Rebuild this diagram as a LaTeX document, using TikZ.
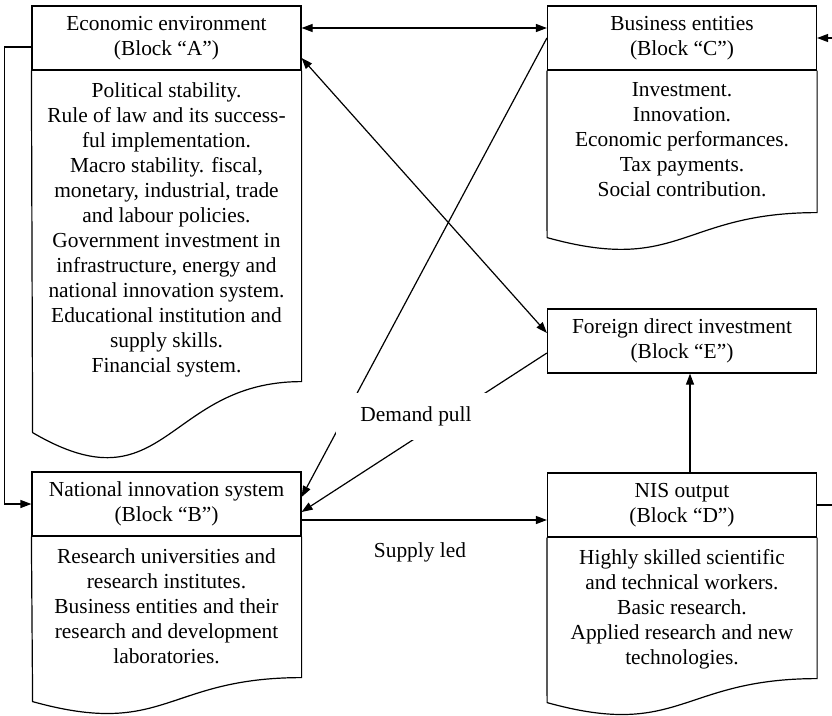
\documentclass[tikz,border=0pt]{standalone}
\usepackage{fontspec}
\setmainfont{Liberation Serif}
\usetikzlibrary{arrows.meta}
\begin{document}
\begin{tikzpicture}[x=1pt,y=-1pt]
   \tikzstyle{head} = [rectangle, draw, line width=1.2pt, minimum width=269pt, minimum height=64pt, inner sep=0pt, align=center, font=\fontsize{21.4}{25}\selectfont]
   \tikzstyle{body} = [anchor=north, inner xsep=0pt, inner ysep=12pt, align=center, font=\fontsize{21.4}{25}\selectfont]
   \tikzstyle{link} = [line width=1.2pt, {Triangle[length=11pt,width=8pt]}-{Triangle[length=11pt,width=8pt]}]
   \tikzstyle{tag} = [font=\fontsize{21.4}{25}\selectfont]

   \useasboundingbox (0,0) rectangle (832,715);

      \draw
        (166.5, 38) node[head] (A){Economic environment\\(Block “A”)}
        (166.5, 504) node[head] (B){National innovation system\\(Block “B”)}
        (682, 38) node[head] (C){Business entities\\(Block “C”)}
        (682, 505) node[head] (D){NIS output\\(Block “D”)}
        (682, 341) node[head] (E){Foreign direct investment\\(Block “E”)};

      \node[body] (a) at (A.south) {Political stability.\\Rule of law and its success-\\ful implementation.\\Macro stability. fiscal,\\monetary, industrial, trade\\and labour policies.\\Government investment in\\infrastructure, energy and\\national innovation system.\\Educational institution and\\supply skills.\\Financial system.};
      \node[body] (b) at (B.south) {Research universities and\\research institutes.\\Business entities and their\\research and development\\laboratories.};
      \node[body] (c) at (C.south) {Investment.\\Innovation.\\Economic performances.\\Tax payments.\\Social contribution.};
      \node[body] (d) at (D.south) {Highly skilled scientific\\and technical workers.\\Basic research.\\Applied research and new\\technologies.};

  % document outlines with wavy bottom
  \draw[line width=1.2pt] (A.south east) -- ++(0,311) .. controls +(-136,0) and +(133,78) .. ++(-269,51) -- (A.south west);
  \draw[line width=1.2pt] (B.south east) -- ++(0,141) .. controls +(-136,0) and +(133,37) .. ++(-269,24) -- (B.south west);
  \draw[line width=1.2pt] (C.south east) -- ++(0,142) .. controls +(-136,0) and +(133,37) .. ++(-270,25) -- (C.south west);
  \draw[line width=1.2pt] (D.south east) -- ++(0,141) .. controls +(-136,0) and +(133,37) .. ++(-270,24) -- (D.south west);

  \coordinate (Dout) at (832,505);
  \coordinate (Cin) at (832,38);

  \begin{scope}[link]
    \draw ([yshift=10pt]A.east) -- ([yshift=10pt]C.west);
    \draw ([yshift=-20pt]A.east) -- ([yshift=8pt]E.west);
    \draw[-{Triangle[length=11pt,width=8pt]}] (C.west) -- ([yshift=7pt]B.east);
    \draw[-{Triangle[length=11pt,width=8pt]}] ([yshift=-12pt]E.west) -- ([yshift=-8pt]B.east);
    \draw[-{Triangle[length=11pt,width=8pt]}] ([yshift=-16pt]B.east) -- ([yshift=-16pt]B.east -| D.west);
    \draw[-{Triangle[length=11pt,width=8pt]}] ([xshift=8pt]D.north) -- ([xshift=8pt]E.south);
    \draw[-{Triangle[length=11pt,width=8pt]}] ([yshift=-9pt]A.west) -- ++(-27,0) |- (B.west);
    \draw[-] (D.east) -- (Dout);
    \draw[-{Triangle[length=11pt,width=8pt]}] (Cin) -- (C.east);
  \end{scope}

  \node[tag, fill=white, minimum width=160pt, minimum height=47pt] (pull) at (416,416.5) {Demand pull};
  \node[tag] (led) at (420,552) {Supply led};
\end{tikzpicture}
\end{document}
